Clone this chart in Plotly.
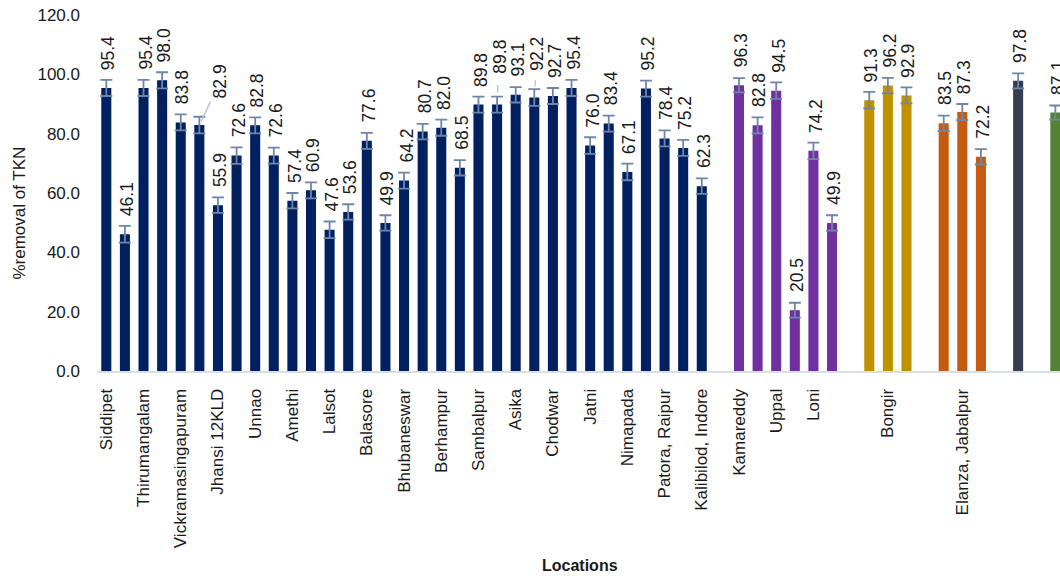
import plotly.graph_objects as go

# ---- data: %removal of TKN per location, grouped by treatment technology ----
navy_names = ["Siddipet", "", "Thirumangalam", "", "Vickramasingapuram", "", "Jhansi 12KLD", "",
              "Unnao", "", "Amethi", "", "Lalsot", "", "Balasore", "", "Bhubaneswar", "",
              "Berhampur", "", "Sambalpur", "", "Asika", "", "Chodwar", "", "Jatni", "",
              "Nimapada", "", "Patora, Raipur", "", "Kalibilod, Indore"]
navy_values = [95.4, 46.1, 95.4, 98.0, 83.8, 82.9, 55.9, 72.6, 82.8, 72.6, 57.4, 60.9, 47.6,
               53.6, 77.6, 49.9, 64.2, 80.7, 82.0, 68.5, 89.8, 89.8, 93.1, 92.2, 92.7, 95.4,
               76.0, 83.4, 67.1, 95.2, 78.4, 75.2, 62.3]
navy_errors = [2.7, 2.8, 2.7, 2.7, 2.7, 2.8, 2.6, 2.8, 2.7, 2.7, 2.6, 2.7, 2.8, 2.6, 2.7, 2.6,
               2.7, 2.6, 2.7, 2.6, 2.7, 2.7, 2.6, 2.8, 2.7, 2.7, 2.8, 2.7, 2.8, 2.7, 2.7, 2.7, 2.6]

purple_names = ["Kamareddy", "", "Uppal", "", "Loni", ""]
purple_values = [96.3, 82.8, 94.5, 20.5, 74.2, 49.9]
purple_errors = [2.4, 2.7, 2.8, 2.5, 2.8, 2.6]

gold_names = ["", "Bongir", ""]
gold_values = [91.3, 96.2, 92.9]
gold_errors = [2.8, 2.6, 2.7]

orange_names = ["", "Elanza, Jabalpur", ""]
orange_values = [83.5, 87.3, 72.2]
orange_errors = [2.6, 2.7, 2.6]

slate_names = [""]
slate_values = [97.8]
slate_errors = [2.5]

green_names = [""]
green_values = [87.1]
green_errors = [2.4]

groups = [
    (navy_names, navy_values, navy_errors, "#002060"),
    (purple_names, purple_values, purple_errors, "#7030A0"),
    (gold_names, gold_values, gold_errors, "#BF9000"),
    (orange_names, orange_values, orange_errors, "#C55A11"),
    (slate_names, slate_values, slate_errors, "#333F50"),
    (green_names, green_values, green_errors, "#548235"),
]

# lay the groups out on one category axis, leaving one empty slot between groups
xs, ys, errs, cols, names = [], [], [], [], []
pos = 0
for g_names, g_vals, g_errs, g_col in groups:
    for n, v, e in zip(g_names, g_vals, g_errs):
        xs.append(pos)
        ys.append(v)
        errs.append(e)
        cols.append(g_col)
        names.append(n)
        pos += 1
    pos += 1

FONT = "Liberation Sans, Arial, sans-serif"
ERR_COL = "#6F86A8"

fig = go.Figure()
fig.add_trace(go.Bar(
    x=xs, y=ys,
    marker=dict(color=cols, line=dict(width=0)),
    error_y=dict(type="data", array=errs, visible=True,
                 color=ERR_COL, thickness=1.8, width=6),
    hoverinfo="x+y",
))

# value labels above each bar; a few are nudged aside with a leader line
nudges = {
    5: dict(ax=21, ay=-44, standoff=4, startstandoff=2),
    21: dict(ax=2, ay=-48, standoff=12, startstandoff=10),
    23: dict(ax=3, ay=-44, standoff=11, startstandoff=8),
}
annotations = []
for i, (x, v) in enumerate(zip(xs, ys)):
    txt = f"{v:.1f}"
    if i in nudges:
        nd = nudges[i]
        annotations.append(dict(
            x=x, y=v, xref="x", yref="y", text=txt, textangle=-90,
            showarrow=True, arrowhead=0, arrowwidth=1.3, arrowcolor="#B4C2D6",
            ax=nd["ax"], ay=nd["ay"], standoff=nd["standoff"],
            startstandoff=nd["startstandoff"],
            font=dict(family=FONT, size=17.5, color="#1a1a1a"),
        ))
    else:
        annotations.append(dict(
            x=x, y=v, xref="x", yref="y", text=txt, textangle=-90,
            showarrow=False, xanchor="center", yanchor="bottom",
            xshift=2, yshift=16,
            font=dict(family=FONT, size=17.5, color="#1a1a1a"),
        ))

# axis titles
annotations.append(dict(
    x=-0.080, y=0.445, xref="paper", yref="paper", text="%removal of TKN",
    textangle=-90, showarrow=False, xanchor="center", yanchor="middle",
    font=dict(family=FONT, size=17, color="#1a1a1a"),
))
annotations.append(dict(
    x=0.502, y=-0.545, xref="paper", yref="paper", text="<b>Locations</b>",
    showarrow=False, xanchor="center", yanchor="middle",
    font=dict(family=FONT, size=16, color="#1a1a1a"),
))

fig.update_layout(
    width=1060, height=576,
    margin=dict(l=97, r=0, t=15, b=205),
    paper_bgcolor="white", plot_bgcolor="white",
    bargap=0.46, showlegend=False,
    annotations=annotations,
    font=dict(family=FONT, color="#1a1a1a"),
    xaxis=dict(
        range=[-0.5, 51.25], tickmode="array", tickvals=xs, ticktext=names,
        tickangle=-90, ticks="", showgrid=False, zeroline=False,
        showline=True, linecolor="#D9DDE4", linewidth=2,
        tickfont=dict(family=FONT, size=17, color="#1a1a1a"),
        ticklabelstandoff=9,
    ),
    yaxis=dict(
        range=[0, 120], tickmode="linear", tick0=0, dtick=20, tickformat=".1f",
        ticks="", showgrid=False, zeroline=False, showline=False,
        tickfont=dict(family=FONT, size=17, color="#1a1a1a"),
        ticklabelstandoff=16,
    ),
)

fig.write_html("out.html")
